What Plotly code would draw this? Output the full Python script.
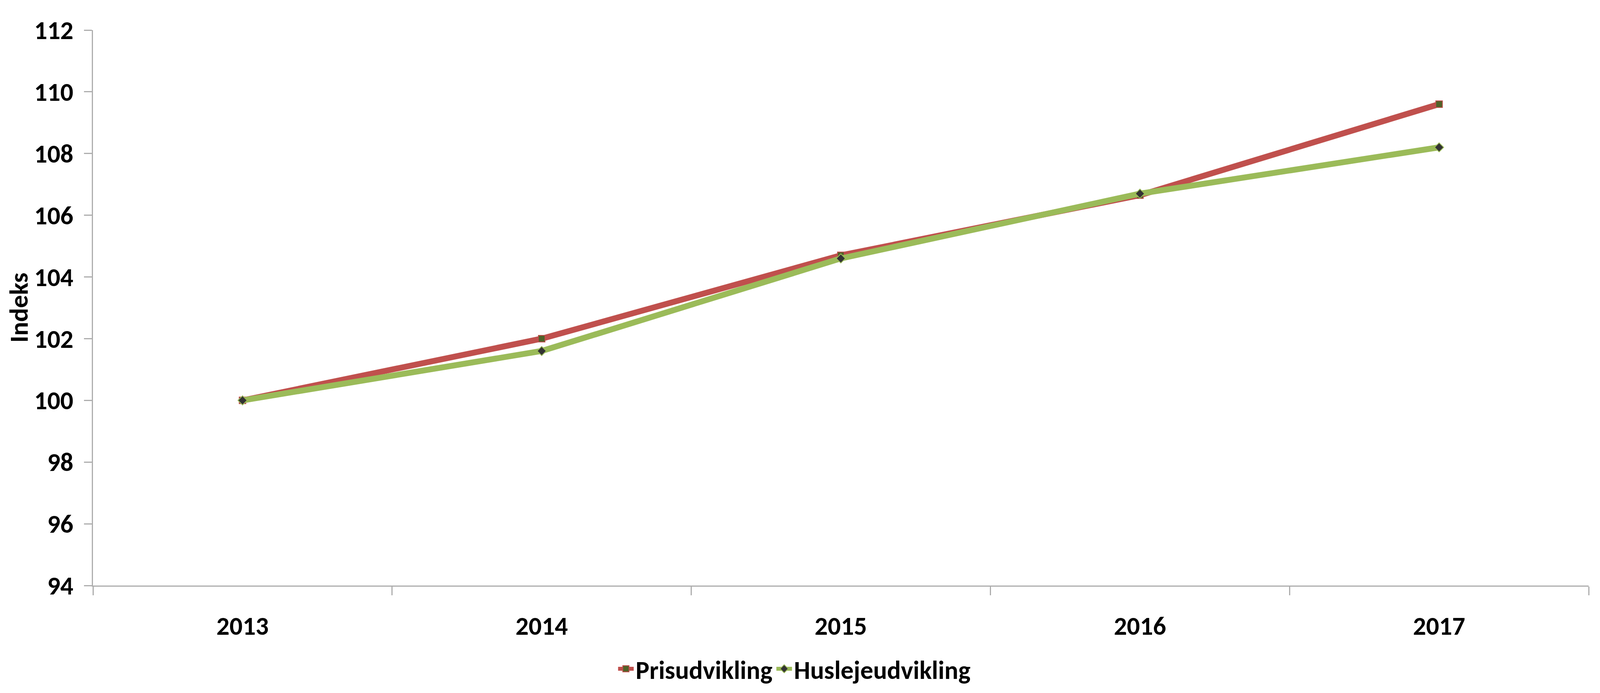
import plotly.graph_objects as go

years = ["2013", "2014", "2015", "2016", "2017"]
prisudvikling = [100.0, 102.0, 104.7, 106.65, 109.6]
huslejeudvikling = [100.0, 101.6, 104.6, 106.7, 108.2]
series_names = ["Prisudvikling", "Huslejeudvikling"]
y_title = "Indeks"

FONT = "Carlito, Lato, 'Open Sans', sans-serif"
RED = "#C0504D"
GREEN = "#9BBB59"
AXIS = "#ADADAD"
FS = 66

# The browser viewport is 4096 px wide, so lay out for 4096 x 1773
W, H = 4096, 1773
ML, MR = 238, 29

fig = go.Figure()
fig.add_trace(go.Scatter(
    x=years, y=prisudvikling, name=series_names[0], mode="lines+markers",
    line=dict(color=RED, width=15),
    marker=dict(symbol="square", size=17, color="#4F6228", line=dict(color=RED, width=2)),
))
fig.add_trace(go.Scatter(
    x=years, y=huslejeudvikling, name=series_names[1], mode="lines+markers",
    line=dict(color=GREEN, width=15),
    marker=dict(symbol="diamond", size=18, color="#333333", line=dict(color=GREEN, width=2)),
))

fig.update_layout(
    width=W, height=H,
    margin=dict(l=ML, r=MR, t=77, b=249),
    paper_bgcolor="white", plot_bgcolor="white",
    font=dict(family=FONT, size=FS, color="black"),
    showlegend=True,
    legend=dict(orientation="h", x=0.469, xanchor="center", y=-0.15, yanchor="middle",
                font=dict(family=FONT, size=FS, color="black", weight="bold"),
                itemwidth=40, tracegroupgap=0, bgcolor="rgba(0,0,0,0)"),
    xaxis=dict(type="category", range=[-0.5, 4.5], tickson="boundaries",
               showline=True, linecolor=AXIS, linewidth=3,
               ticks="outside", ticklen=22, tickwidth=3, tickcolor=AXIS,
               showgrid=False, zeroline=False, ticklabelstandoff=44,
               tickfont=dict(family=FONT, size=FS, color="black", weight="bold")),
    yaxis=dict(range=[94, 112], dtick=2, tick0=94,
               showline=True, linecolor=AXIS, linewidth=3,
               ticks="outside", ticklen=20, tickwidth=3, tickcolor=AXIS,
               showgrid=False, zeroline=False, ticklabelstandoff=14,
               tickfont=dict(family=FONT, size=FS, color="black", weight="bold")),
)
fig.add_annotation(text=y_title, textangle=-90, xref="paper", yref="paper",
                   x=(48 - ML) / (W - ML - MR), y=0.5, xanchor="center", yanchor="middle",
                   showarrow=False,
                   font=dict(family=FONT, size=FS, color="black", weight="bold"))

fig.write_html("out.html", config={"displayModeBar": False},
               post_script="document.body.style.margin='0';")
